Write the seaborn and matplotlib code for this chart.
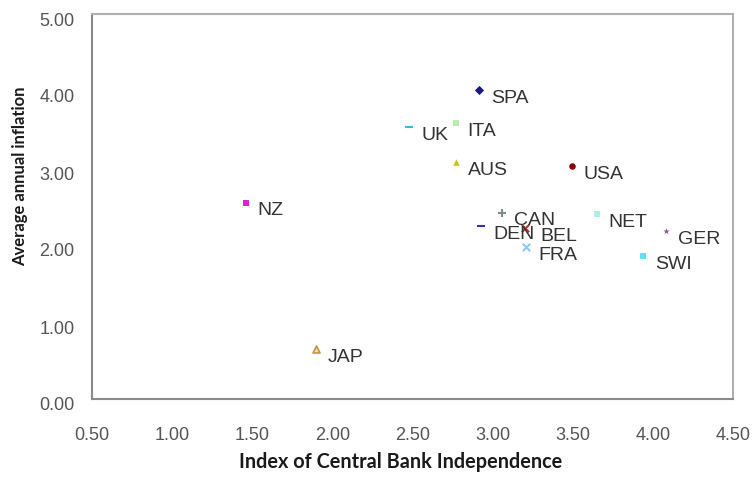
import matplotlib
matplotlib.use("Agg")
import matplotlib.pyplot as plt
from matplotlib.transforms import ScaledTranslation
import seaborn as sns
import pandas as pd

countries = ["SPA", "UK", "ITA", "AUS", "USA", "NZ", "JAP", "CAN", "DEN", "BEL", "FRA", "NET", "GER", "SWI"]
cbi_index = [2.915, 2.48, 2.77, 2.77, 3.495, 1.46, 1.90, 3.06, 2.93, 3.20, 3.21, 3.65, 4.08, 3.94]
inflation = [4.01, 3.53, 3.58, 3.08, 3.03, 2.55, 0.65, 2.42, 2.25, 2.22, 1.97, 2.40, 2.18, 1.86]
markers = ["D", "_", "s", "^", "o", "s", "^", "+", "_", "x", "x", "s", "*", "s"]
colors = ["#1a1a7a", "#33bbee", "#b8f0b0", "#c8c020", "#8b0000", "#e020d0", "#c89040",
          "#809080", "#3030c0", "#c03030", "#90c8f0", "#a8f0e8", "#905090", "#60e0f0"]
x_ticks = [0.5, 1.0, 1.5, 2.0, 2.5, 3.0, 3.5, 4.0, 4.5]
y_ticks = [0, 1, 2, 3, 4, 5]

df = pd.DataFrame({"country": countries, "cbi": cbi_index, "infl": inflation})

sns.set_theme(style="white")
plt.rcParams["font.family"] = ["Liberation Sans", "DejaVu Sans"]

W, H = 755, 478
fig = plt.figure(figsize=(W / 100, H / 100), dpi=100)
left, right, top, bottom = 92, 733, 14, 399
ax = fig.add_axes([left / W, 1 - bottom / H, (right - left) / W, (bottom - top) / H])

for i, row in df.iterrows():
    m = markers[i]
    sub = df.iloc[[i]]
    if m in ("_", "+", "x"):
        sns.scatterplot(data=sub, x="cbi", y="infl", marker=m, color=colors[i],
                        s=28, linewidth=1.5, ax=ax, legend=False)
    elif row["country"] == "JAP":
        sns.scatterplot(data=sub, x="cbi", y="infl", marker=m, facecolor="#f0e0c0",
                        edgecolor=colors[i], s=25, linewidth=1.2, ax=ax, legend=False)
    else:
        sns.scatterplot(data=sub, x="cbi", y="infl", marker=m, color=colors[i],
                        s=22, linewidth=0, ax=ax, legend=False)
    dx = 11 if row["country"] == "BEL" else 8.5
    ax.annotate(row["country"], (row["cbi"], row["infl"]), xytext=(dx, -6),
                textcoords="offset points", ha="left", va="center",
                fontsize=14, color="#333333")

ax.set_xlim(x_ticks[0], x_ticks[-1])
ax.set_ylim(y_ticks[0], y_ticks[-1])
ax.set_xticks(x_ticks)
ax.set_yticks(y_ticks)
ax.set_xticklabels([f"{v:.2f}" for v in x_ticks])
ax.set_yticklabels([f"{v:.2f}" for v in y_ticks])
ax.tick_params(axis="x", direction="inout", length=6, width=1.2, color="#888888",
               labelsize=13, labelcolor="#555555", pad=17)
ax.tick_params(axis="y", direction="out", length=4.5, width=1.2, color="#888888",
               labelsize=13, labelcolor="#555555", pad=8)
for lab in ax.get_yticklabels():
    lab.set_transform(lab.get_transform() + ScaledTranslation(0, -5 / 100, fig.dpi_scale_trans))

for name, sp in ax.spines.items():
    sp.set_linewidth(1.5)
    sp.set_color("#8a8a8a" if name in ("left", "bottom") else "#b0b0b0")

ax.set_xlabel("Index of Central Bank Independence", fontsize=14.3, fontweight="bold",
              family=["Lato", "DejaVu Sans"], color="#1a1a1a")
ax.set_ylabel("Average annual inflation", fontsize=12, fontweight="bold",
              family=["Lato", "DejaVu Sans"], color="#1a1a1a")
ax.xaxis.set_label_coords((401 - left) / (right - left), -(462 - bottom) / (bottom - top), transform=ax.transAxes)
ax.yaxis.set_label_coords(-(left - 20) / (right - left), (bottom - 176) / (bottom - top), transform=ax.transAxes)
ax.xaxis.label.set_va("center")
ax.yaxis.label.set_va("center")

fig.savefig("out.png", dpi=100)
